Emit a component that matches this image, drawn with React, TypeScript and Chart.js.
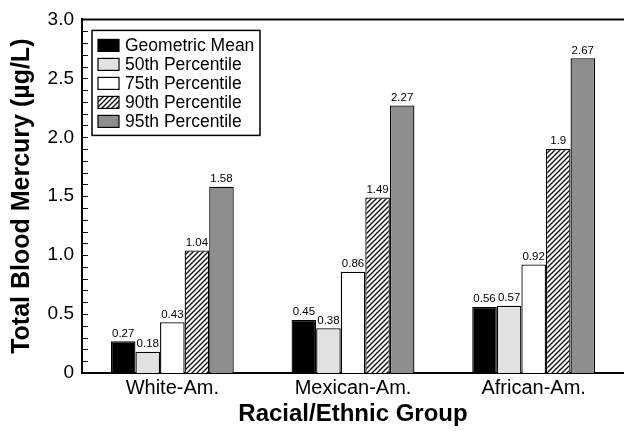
import React, { useEffect, useRef } from "react";
import { Chart, registerables } from "chart.js";

Chart.register(...registerables);

const categories = ["White-Am.", "Mexican-Am.", "African-Am."];
const seriesNames = [
  "Geometric Mean",
  "50th Percentile",
  "75th Percentile",
  "90th Percentile",
  "95th Percentile",
];
const geometricMean = [0.27, 0.45, 0.56];
const p50 = [0.18, 0.38, 0.57];
const p75 = [0.43, 0.86, 0.92];
const p90 = [1.04, 1.49, 1.9];
const p95 = [1.58, 2.27, 2.67];
const yMin = 0;
const yMax = 3.0;
const yMajorStep = 0.5;
const yMinorStep = 0.1;
const xTitle = "Racial/Ethnic Group";
const yTitle = "Total Blood Mercury (µg/L)";

const FONT = "'Liberation Sans', Arial, Helvetica, sans-serif";

function makeHatch(ctx: CanvasRenderingContext2D): CanvasPattern | string {
  const s = 5;
  const c = document.createElement("canvas");
  c.width = s;
  c.height = s;
  const g = c.getContext("2d")!;
  g.fillStyle = "#ffffff";
  g.fillRect(0, 0, s, s);
  g.strokeStyle = "#111111";
  g.lineWidth = 1.4;
  g.beginPath();
  g.moveTo(-1, s + 1);
  g.lineTo(s + 1, -1);
  g.moveTo(-1, 1);
  g.lineTo(1, -1);
  g.moveTo(s - 1, s + 1);
  g.lineTo(s + 1, s - 1);
  g.stroke();
  return ctx.createPattern(c, "repeat") || "#777";
}

export default function App() {
  const ref = useRef<HTMLCanvasElement | null>(null);

  useEffect(() => {
    document.body.style.margin = "0";
    const canvas = ref.current!;
    const ctx = canvas.getContext("2d")!;
    const hatch = makeHatch(ctx);
    const fills: (string | CanvasPattern)[] = ["#000000", "#e2e2e2", "#ffffff", hatch, "#8e8e8e"];
    const series = [geometricMean, p50, p75, p90, p95];

    const valueLabelPlugin = {
      id: "valueLabels",
      afterDatasetsDraw(chart: any) {
        const c = chart.ctx;
        c.save();
        c.font = `11.5px ${FONT}`;
        c.fillStyle = "#000";
        c.textAlign = "center";
        c.textBaseline = "bottom";
        chart.data.datasets.forEach((ds: any, i: number) => {
          const meta = chart.getDatasetMeta(i);
          meta.data.forEach((bar: any, j: number) => {
            c.fillText(String(ds.data[j]), bar.x, bar.y - 2);
          });
        });
        c.restore();
      },
    };

    const framePlugin = {
      id: "frame",
      afterDraw(chart: any) {
        const c = chart.ctx;
        const a = chart.chartArea;
        const y = chart.scales.y;
        c.save();
        c.strokeStyle = "#000";
        c.lineWidth = 2;
        c.beginPath();
        c.moveTo(a.left, a.top);
        c.lineTo(a.right, a.top);
        c.stroke();
        c.lineWidth = 1.2;
        const n = Math.round((yMax - yMin) / yMinorStep);
        c.beginPath();
        for (let k = 0; k <= n; k++) {
          const py = Math.round(y.getPixelForValue(yMin + k * yMinorStep)) + 0.5;
          c.moveTo(a.left, py);
          c.lineTo(a.left + 6, py);
        }
        c.stroke();
        c.restore();
      },
    };

    const legendPlugin = {
      id: "boxLegend",
      afterDraw(chart: any) {
        const c = chart.ctx;
        const a = chart.chartArea;
        const bx = a.left + 10;
        const by = a.top + 11;
        const bw = 168;
        const bh = 105;
        c.save();
        c.fillStyle = "#fff";
        c.fillRect(bx, by, bw, bh);
        c.strokeStyle = "#000";
        c.lineWidth = 1.5;
        c.strokeRect(bx, by, bw, bh);
        c.font = `17.5px ${FONT}`;
        c.textBaseline = "middle";
        c.textAlign = "left";
        chart.data.datasets.forEach((ds: any, i: number) => {
          const cy = by + 15 + i * 19;
          c.fillStyle = ds.backgroundColor;
          c.fillRect(bx + 6, cy - 6, 21, 12);
          c.lineWidth = 1.2;
          c.strokeStyle = "#000";
          c.strokeRect(bx + 6, cy - 6, 21, 12);
          c.fillStyle = "#000";
          c.fillText(ds.label, bx + 33, cy + 1);
        });
        c.restore();
      },
    };

    const chart = new Chart(canvas, {
      type: "bar",
      data: {
        labels: categories,
        datasets: series.map((d, i) => ({
          label: seriesNames[i],
          data: d,
          backgroundColor: fills[i] as any,
          borderColor: "#000000",
          borderWidth: 1.3,
          categoryPercentage: 0.68,
          barPercentage: 1.0,
        })),
      },
      options: {
        responsive: false,
        animation: false,
        devicePixelRatio: 1,
        layout: { padding: { top: 19, right: 0, left: 0, bottom: 0 } },
        plugins: {
          legend: { display: false },
          tooltip: { enabled: false },
        },
        scales: {
          x: {
            grid: { display: false, drawTicks: false },
            border: { display: true, color: "#000", width: 2 },
            ticks: {
              color: "#000",
              font: { family: FONT, size: 20 },
              padding: 3,
              maxRotation: 0,
            },
            title: {
              display: true,
              text: xTitle,
              color: "#000",
              font: { family: FONT, size: 24, weight: "bold" },
              padding: { top: 0, bottom: 2 },
            },
            afterFit: (s: any) => {
              s.height = 58;
            },
          },
          y: {
            min: yMin,
            max: yMax,
            grid: { display: false, drawTicks: false },
            border: { display: true, color: "#000", width: 2 },
            ticks: {
              stepSize: yMajorStep,
              color: "#000",
              font: { family: FONT, size: 19 },
              padding: 8,
              callback: (v: any) => (Number(v) === 0 ? "0" : Number(v).toFixed(1)),
            },
            title: {
              display: true,
              text: yTitle,
              color: "#000",
              font: { family: FONT, size: 25, weight: "bold" },
              padding: { top: 7, bottom: 0 },
            },
            afterFit: (s: any) => {
              s.width = 82;
            },
          },
        },
      } as any,
      plugins: [valueLabelPlugin, framePlugin, legendPlugin],
    });

    return () => chart.destroy();
  }, []);

  return (
    <div style={{ width: 624, height: 431 }}>
      <canvas ref={ref} width={624} height={431} style={{ display: "block" }} />
    </div>
  );
}
